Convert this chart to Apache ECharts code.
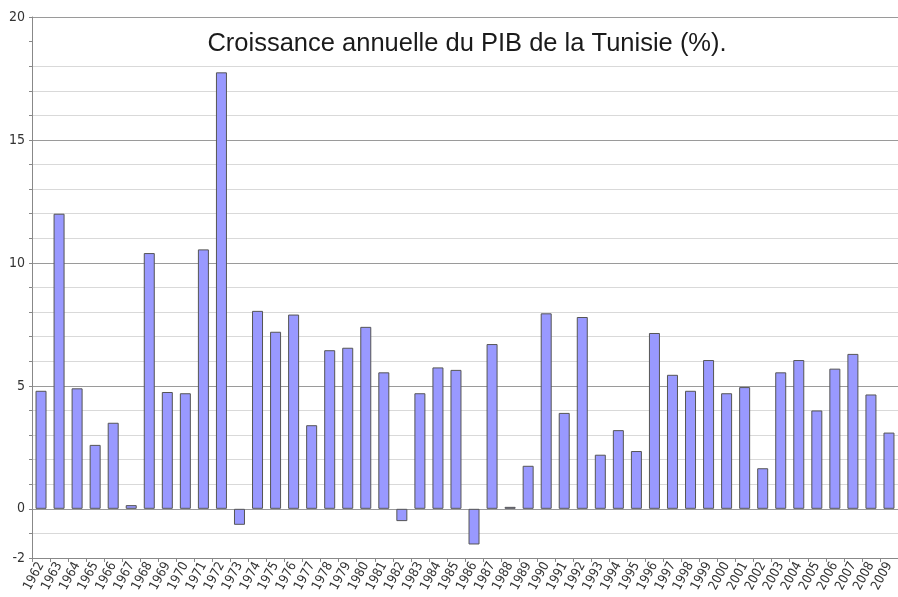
<!DOCTYPE html>
<html>
<head>
<meta charset="utf-8">
<script src="https://cdn.jsdelivr.net/npm/echarts@6/dist/echarts.min.js"></script>
<style>
  html, body { margin: 0; padding: 0; background: #fff; }
  #chart { width: 898px; height: 597px; }
</style>
</head>
<body>
<div id="chart"></div>
<script>
// années
const years = [
  '1962','1963','1964','1965','1966','1967','1968','1969','1970','1971',
  '1972','1973','1974','1975','1976','1977','1978','1979','1980','1981',
  '1982','1983','1984','1985','1986','1987','1988','1989','1990','1991',
  '1992','1993','1994','1995','1996','1997','1998','1999','2000','2001',
  '2002','2003','2004','2005','2006','2007','2008','2009'
];

// croissance du PIB (%)
const growth = [
  4.8, 12.0, 4.9, 2.6, 3.5, 0.15, 10.4, 4.75, 4.7, 10.55,
  17.75, -0.65, 8.05, 7.2, 7.9, 3.4, 6.45, 6.55, 7.4, 5.55,
  -0.5, 4.7, 5.75, 5.65, -1.45, 6.7, 0.08, 1.75, 7.95, 3.9,
  7.8, 2.2, 3.2, 2.35, 7.15, 5.45, 4.8, 6.05, 4.7, 4.95,
  1.65, 5.55, 6.05, 4.0, 5.7, 6.3, 4.65, 3.1
];

const yLabels = [-2, 0, 5, 10, 15, 20];
const title = 'Croissance annuelle du PIB de la Tunisie (%).';

// couleurs des lignes de grille : une par graduation de -2 à 20
let gridColors = [];
for (let v = -2; v <= 20; v++) {
  if (v === 19) gridColors.push('rgba(0,0,0,0)');
  else if (v % 5 === 0) gridColors.push('#9a9a9a');
  else gridColors.push('#d9d9d9');
}

const narrow = '"DejaVu Sans Condensed", "Liberation Sans", sans-serif';

const chart = echarts.init(document.getElementById('chart'));

chart.setOption({
  backgroundColor: '#ffffff',
  animation: false,
  title: {
    text: title,
    left: 462,
    textAlign: 'center',
    top: 26,
    textStyle: {
      fontFamily: 'Liberation Sans',
      fontSize: 25.5,
      fontWeight: 'normal',
      color: '#1a1a1a'
    }
  },
  grid: {
    left: 32,
    right: -4,
    top: 17,
    bottom: 39,
    containLabel: false
  },
  xAxis: {
    type: 'category',
    data: years,
    boundaryGap: true,
    axisLine: { onZero: false, lineStyle: { color: '#888', width: 1 } },
    axisTick: { show: true, length: 4, lineStyle: { color: '#888' } },
    axisLabel: {
      interval: 0,
      rotate: 62,
      margin: 5,
      fontFamily: narrow,
      fontSize: 13,
      color: '#333'
    }
  },
  yAxis: {
    type: 'value',
    min: -2,
    max: 20,
    interval: 1,
    axisLine: { show: true, lineStyle: { color: '#888' } },
    axisTick: { show: true, length: 3, lineStyle: { color: '#888' } },
    axisLabel: {
      margin: 7,
      fontFamily: narrow,
      fontSize: 14,
      color: '#333',
      formatter: function (v) {
        return yLabels.indexOf(v) >= 0 ? String(v) : '';
      }
    },
    splitLine: {
      show: true,
      lineStyle: { color: gridColors, width: 1 }
    }
  },
  series: [
    {
      type: 'bar',
      data: growth,
      barWidth: 11,
      itemStyle: {
        color: '#9999ff',
        borderColor: '#555',
        borderWidth: 1
      }
    }
  ]
});
</script>
</body>
</html>
